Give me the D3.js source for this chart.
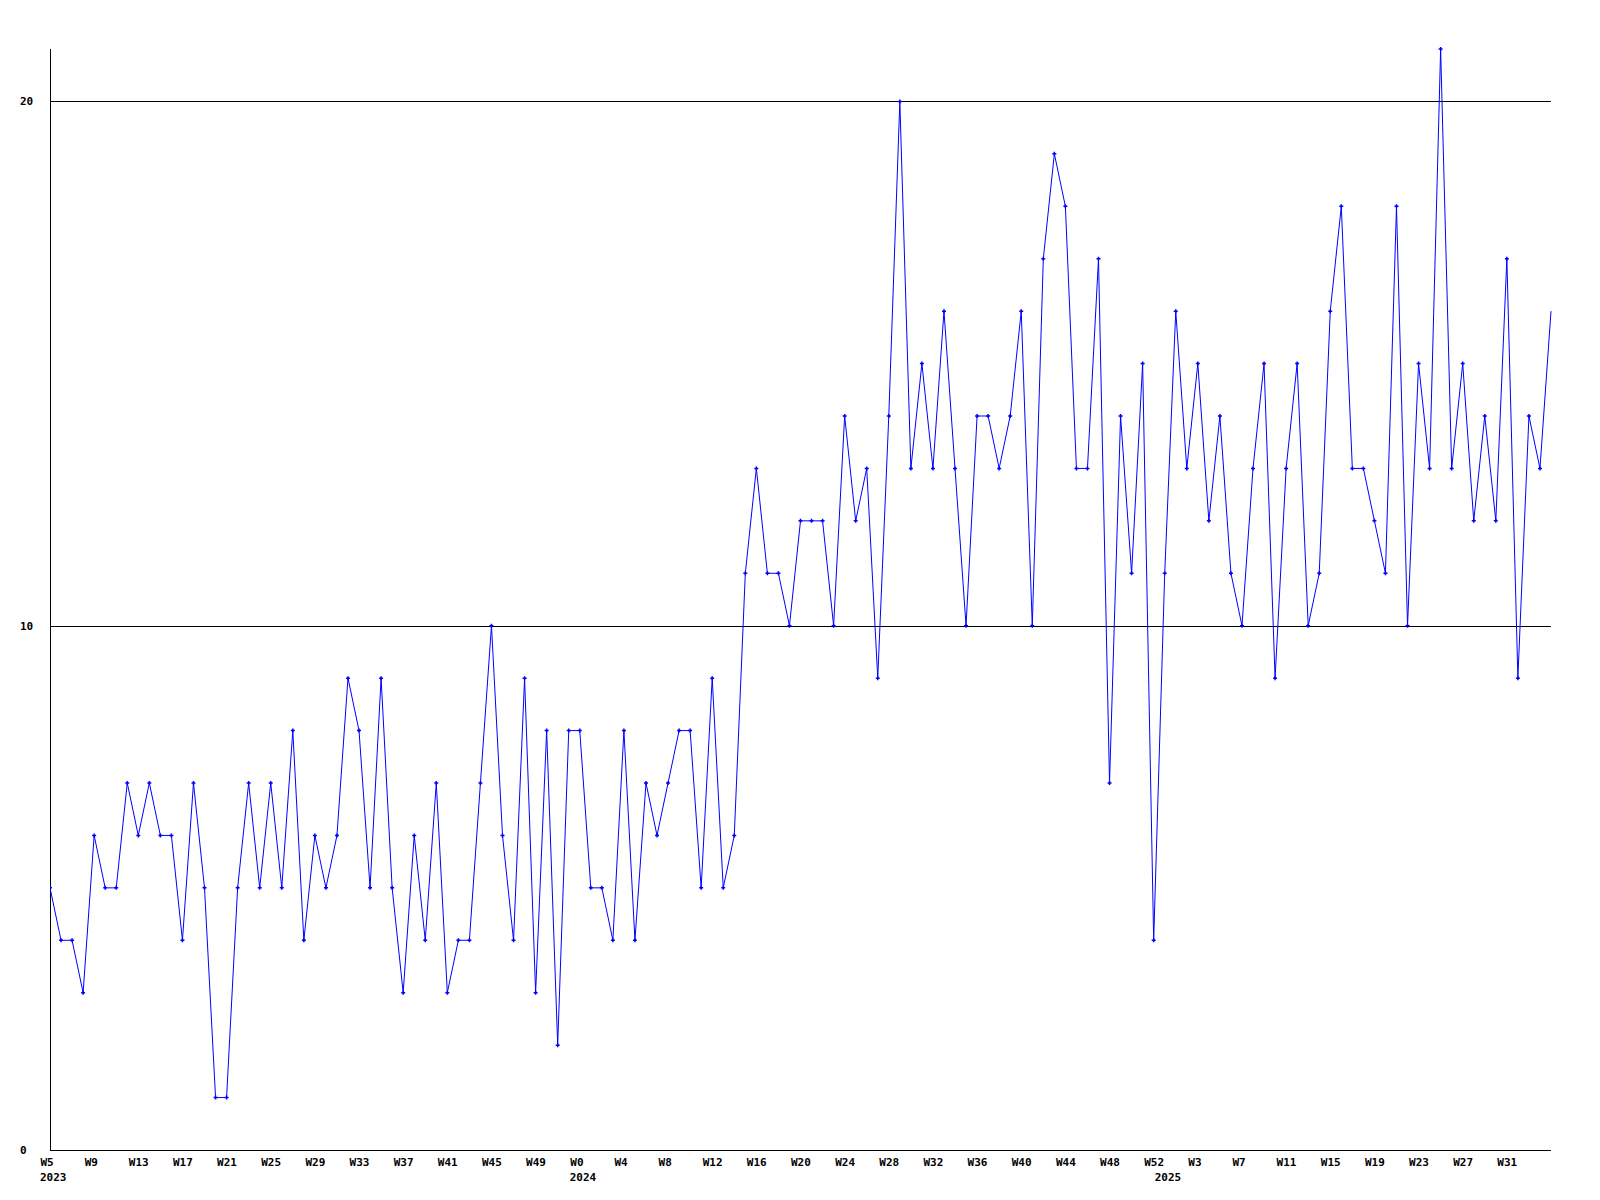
<!DOCTYPE html>
<html>
<head>
<meta charset="utf-8">
<script src="https://cdn.jsdelivr.net/npm/d3@7"></script>
<style>
  html, body { margin: 0; padding: 0; background: #ffffff; }
  svg { display: block; }
  text { font-family: "DejaVu Sans Mono", "Liberation Mono", monospace; font-weight: bold; font-size: 11px; fill: #000; }
</style>
</head>
<body>
<script>
// ---- Data ----
const categories = [
  "2023-W5","2023-W6","2023-W7","2023-W8","2023-W9","2023-W10","2023-W11","2023-W12","2023-W13","2023-W14",
  "2023-W15","2023-W16","2023-W17","2023-W18","2023-W19","2023-W20","2023-W21","2023-W22","2023-W23","2023-W24",
  "2023-W25","2023-W26","2023-W27","2023-W28","2023-W29","2023-W30","2023-W31","2023-W32","2023-W33","2023-W34",
  "2023-W35","2023-W36","2023-W37","2023-W38","2023-W39","2023-W40","2023-W41","2023-W42","2023-W43","2023-W44",
  "2023-W45","2023-W46","2023-W47","2023-W48","2023-W49","2023-W50","2023-W51","2023-W52",
  "2024-W0","2024-W1","2024-W2","2024-W3","2024-W4","2024-W5","2024-W6","2024-W7","2024-W8","2024-W9",
  "2024-W10","2024-W11","2024-W12","2024-W13","2024-W14","2024-W15","2024-W16","2024-W17","2024-W18","2024-W19",
  "2024-W20","2024-W21","2024-W22","2024-W23","2024-W24","2024-W25","2024-W26","2024-W27","2024-W28","2024-W29",
  "2024-W30","2024-W31","2024-W32","2024-W33","2024-W34","2024-W35","2024-W36","2024-W37","2024-W38","2024-W39",
  "2024-W40","2024-W41","2024-W42","2024-W43","2024-W44","2024-W45","2024-W46","2024-W47","2024-W48","2024-W49",
  "2024-W50","2024-W51","2024-W52",
  "2025-W0","2025-W1","2025-W2","2025-W3","2025-W4","2025-W5","2025-W6","2025-W7","2025-W8","2025-W9",
  "2025-W10","2025-W11","2025-W12","2025-W13","2025-W14","2025-W15","2025-W16","2025-W17","2025-W18","2025-W19",
  "2025-W20","2025-W21","2025-W22","2025-W23","2025-W24","2025-W25","2025-W26","2025-W27","2025-W28","2025-W29",
  "2025-W30","2025-W31","2025-W32","2025-W33","2025-W34","2025-W35"
];

const values = [
  5,4,4,3,6,5,5,7,6,7,
  6,6,4,7,5,1,1,5,7,5,
  7,5,8,4,6,5,6,9,8,5,
  9,5,3,6,4,7,3,4,4,7,
  10,6,4,9,3,8,2,8,
  8,5,5,4,8,4,7,6,7,8,
  8,5,9,5,6,11,13,11,11,10,
  12,12,12,10,14,12,13,9,14,20,
  13,15,13,16,13,10,14,14,13,14,
  16,10,17,19,18,13,13,17,7,14,
  11,15,4,
  11,16,13,15,12,14,11,10,13,15,
  9,13,15,10,11,16,18,13,13,12,
  11,18,10,15,13,21,13,15,12,14,
  12,17,9,14,13,16
];

const tickCategories = [
  "2023-W5","2023-W9","2023-W13","2023-W17","2023-W21","2023-W25","2023-W29","2023-W33","2023-W37","2023-W41",
  "2023-W45","2023-W49","2024-W0","2024-W4","2024-W8","2024-W12","2024-W16","2024-W20","2024-W24","2024-W28",
  "2024-W32","2024-W36","2024-W40","2024-W44","2024-W48","2024-W52","2025-W3","2025-W7","2025-W11","2025-W15",
  "2025-W19","2025-W23","2025-W27","2025-W31"
];

const yearLabels = ["2023", "2024", "2025"];
const yearStarts = ["2023-W5", "2024-W0", "2025-W0"];

const yTicks = [0, 10, 20];

// ---- Layout ----
const W = 1600, H = 1200;
const plotLeft = 50, plotRight = 1551, plotTop = 49, plotBottom = 1150;

const svg = d3.select("body").append("svg")
  .attr("width", W).attr("height", H);

const x = d3.scalePoint().domain(categories).range([plotLeft, plotRight]);
const y = d3.scaleLinear().domain([0, 21]).range([plotBottom, plotTop]);

// grid lines at 10, 20
svg.append("g").selectAll("line")
  .data(yTicks.filter(d => d > 0))
  .join("line")
  .attr("x1", plotLeft).attr("x2", plotRight)
  .attr("y1", d => Math.round(y(d)) + 0.5).attr("y2", d => Math.round(y(d)) + 0.5)
  .attr("stroke", "#000").attr("stroke-width", 1)
  .attr("shape-rendering", "crispEdges");

// y labels
svg.append("g").selectAll("text")
  .data(yTicks)
  .join("text")
  .attr("x", 20)
  .attr("y", d => Math.round(y(d)) + 4)
  .text(d => d);

// axes lines
svg.append("line")
  .attr("x1", plotLeft + 0.5).attr("x2", plotLeft + 0.5)
  .attr("y1", plotTop).attr("y2", plotBottom + 1)
  .attr("stroke", "#000").attr("shape-rendering", "crispEdges");
svg.append("line")
  .attr("x1", plotLeft).attr("x2", plotRight)
  .attr("y1", plotBottom + 0.5).attr("y2", plotBottom + 0.5)
  .attr("stroke", "#000").attr("shape-rendering", "crispEdges");

// x axis labels via d3 axis
const xAxis = d3.axisBottom(x)
  .tickValues(tickCategories)
  .tickSize(0)
  .tickPadding(0)
  .tickFormat(d => d.split("-")[1]);
const gx = svg.append("g").attr("transform", `translate(0,${plotBottom})`).call(xAxis);
gx.attr("font-family", null).attr("font-size", null);
gx.select(".domain").remove();
gx.selectAll("text")
  .attr("text-anchor", "start")
  .attr("dx", -10)
  .attr("dy", 0)
  .attr("y", 16)
  .attr("fill", "#000");

// year labels
svg.append("g").selectAll("text")
  .data(yearLabels)
  .join("text")
  .attr("x", (d, i) => x(yearStarts[i]) - 10)
  .attr("y", plotBottom + 31)
  .text(d => d);

// clip
svg.append("clipPath").attr("id", "plotclip")
  .append("rect").attr("x", plotLeft).attr("y", 0).attr("width", plotRight - plotLeft + 1).attr("height", plotBottom + 1);

const data = categories.map((c, i) => ({ c, v: values[i] }));

const line = d3.line().x(d => x(d.c)).y(d => y(d.v));

svg.append("path")
  .datum(data)
  .attr("clip-path", "url(#plotclip)")
  .attr("fill", "none")
  .attr("stroke", "#0000ff")
  .attr("stroke-width", 1)
  .attr("d", line);

// markers
svg.append("g").attr("clip-path", "url(#plotclip)")
  .selectAll("path")
  .data(data.slice(0, data.length - 1))
  .join("path")
  .attr("transform", d => `translate(${x(d.c)},${y(d.v)})`)
  .attr("d", "M-2,-0.75H-0.75V-2H0.75V-0.75H2V0.75H0.75V2H-0.75V0.75H-2Z")
  .attr("fill", "#0000ff");
</script>
</body>
</html>
